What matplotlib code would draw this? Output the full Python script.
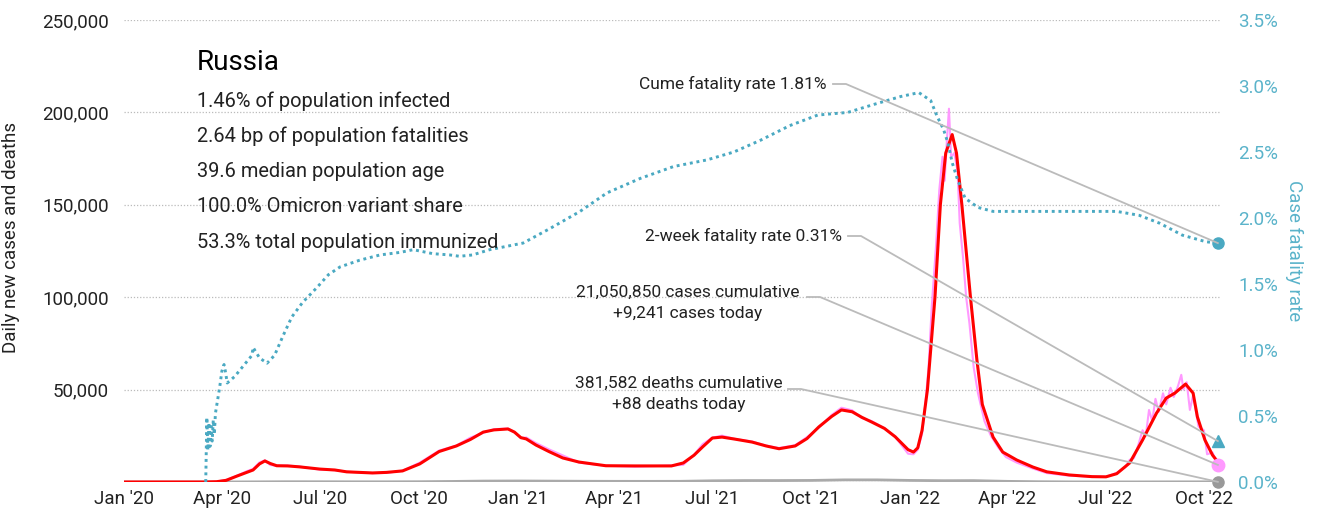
import matplotlib
matplotlib.use("Agg")
import matplotlib.pyplot as plt
import matplotlib.dates as mdates
from matplotlib.lines import Line2D
from matplotlib.ticker import FuncFormatter
import pandas as pd

plt.rcParams['font.family'] = ['Roboto', 'DejaVu Sans']

# 7-day average of new cases
avg_dates = ["2020-01-01", "2020-03-15", "2020-03-27", "2020-04-05", "2020-04-15", "2020-04-30",
             "2020-05-06", "2020-05-11", "2020-05-16", "2020-05-22", "2020-06-01", "2020-06-12",
             "2020-07-01", "2020-07-15", "2020-07-26", "2020-08-19", "2020-09-01", "2020-09-16",
             "2020-10-02", "2020-10-20", "2020-11-05", "2020-11-18", "2020-11-30", "2020-12-10",
             "2020-12-23", "2020-12-29", "2021-01-04", "2021-01-09", "2021-01-18", "2021-01-30",
             "2021-02-12", "2021-02-27", "2021-03-24", "2021-04-20", "2021-05-24", "2021-06-04",
             "2021-06-14", "2021-06-22", "2021-07-01", "2021-07-10", "2021-07-22", "2021-08-07",
             "2021-08-20", "2021-09-01", "2021-09-16", "2021-09-27", "2021-10-08", "2021-10-20",
             "2021-10-29", "2021-11-08", "2021-11-17", "2021-11-26", "2021-12-08", "2021-12-18",
             "2021-12-30", "2022-01-04", "2022-01-08", "2022-01-12", "2022-01-17", "2022-01-24",
             "2022-01-29", "2022-02-03", "2022-02-09", "2022-02-13", "2022-02-18", "2022-02-26",
             "2022-03-04", "2022-03-09", "2022-03-19", "2022-03-28", "2022-04-10", "2022-04-25",
             "2022-05-08", "2022-05-29", "2022-06-19", "2022-07-02", "2022-07-12", "2022-07-24",
             "2022-08-05", "2022-08-18", "2022-08-27", "2022-09-04", "2022-09-14", "2022-09-21",
             "2022-09-25", "2022-10-02", "2022-10-09", "2022-10-14"]
avg_cases = [0, 0, 150, 900, 3200, 6500,
             9800, 11400, 10000, 8800, 8700, 8200,
             7000, 6500, 5500, 4900, 5200, 6000,
             9800, 16500, 19500, 23000, 27000, 28200,
             28700, 27000, 24000, 23300, 20000, 16500,
             13000, 10800, 8800, 8700, 8700, 10300,
             14500, 19000, 23800, 24300, 23200, 21600,
             19500, 18000, 19500, 23500, 29800, 35500,
             39000, 38000, 35000, 32500, 29000, 24500,
             17500, 16200, 18500, 28000, 50000, 100000,
             150000, 178000, 188000, 178000, 150000, 100000,
             66000, 42000, 24300, 16200, 11900, 8100,
             5500, 3800, 2900, 2800, 4500, 10300,
             22700, 37300, 45400, 48100, 53000, 48100,
             35200, 22700, 14600, 10800]

# reported daily new cases
raw_dates = ["2020-01-01", "2020-03-15", "2020-03-27", "2020-04-05", "2020-04-15", "2020-04-24",
             "2020-04-30", "2020-05-06", "2020-05-11", "2020-05-16", "2020-05-22", "2020-06-01",
             "2020-06-12", "2020-07-01", "2020-07-15", "2020-07-26", "2020-08-19", "2020-09-01",
             "2020-09-16", "2020-10-02", "2020-10-20", "2020-11-05", "2020-11-18", "2020-11-30",
             "2020-12-10", "2020-12-23", "2020-12-29", "2021-01-04", "2021-01-09", "2021-01-18",
             "2021-01-30", "2021-02-12", "2021-02-27", "2021-03-24", "2021-04-20", "2021-05-24",
             "2021-06-04", "2021-06-14", "2021-06-22", "2021-07-01", "2021-07-10", "2021-07-22",
             "2021-08-07", "2021-08-20", "2021-09-01", "2021-09-16", "2021-09-27", "2021-10-08",
             "2021-10-20", "2021-10-29", "2021-11-08", "2021-11-17", "2021-11-26", "2021-12-08",
             "2021-12-18", "2021-12-30", "2022-01-04", "2022-01-08", "2022-01-12", "2022-01-15",
             "2022-01-18", "2022-01-21", "2022-01-25", "2022-01-28", "2022-01-31", "2022-02-02",
             "2022-02-04", "2022-02-06", "2022-02-08", "2022-02-11", "2022-02-14", "2022-02-16",
             "2022-02-19", "2022-02-22", "2022-02-25", "2022-03-01", "2022-03-05", "2022-03-11",
             "2022-03-17", "2022-03-24", "2022-03-31", "2022-04-10", "2022-04-25", "2022-05-08",
             "2022-05-29", "2022-06-19", "2022-07-02", "2022-07-12", "2022-07-20", "2022-07-24",
             "2022-07-28", "2022-08-01", "2022-08-05", "2022-08-08", "2022-08-11", "2022-08-14",
             "2022-08-17", "2022-08-20", "2022-08-24", "2022-08-27", "2022-08-31", "2022-09-03",
             "2022-09-07", "2022-09-10", "2022-09-12", "2022-09-15", "2022-09-18", "2022-09-21",
             "2022-09-26", "2022-10-01", "2022-10-04", "2022-10-09", "2022-10-14"]
raw_cases = [0, 0, 200, 1150, 3400, 5800,
             7100, 10600, 11700, 9200, 8800, 8900,
             8400, 6700, 6400, 5600, 4800, 4900,
             6100, 10500, 17000, 19700, 24000, 26600,
             28600, 28900, 27000, 23700, 24100, 21100,
             17700, 14400, 10500, 8800, 8300, 8900,
             9300, 14700, 20500, 24000, 25100, 23300,
             21900, 19700, 18400, 19900, 24300, 29400,
             36300, 40200, 38800, 34600, 33000, 29100,
             24400, 15300, 15000, 17500, 26000, 42000,
             62000, 95000, 128000, 158000, 176000, 163000,
             184000, 202000, 176000, 178000, 168000, 140000,
             122000, 100000, 86000, 62000, 48000, 33000,
             25000, 18500, 13500, 10500, 7300, 4800,
             3400, 2900, 2800, 5000, 8000, 12000,
             13000, 20000, 28000, 25000, 39000, 33000,
             45000, 38000, 48000, 42000, 51000, 46000,
             52000, 58000, 50000, 54000, 39000, 47000,
             30000, 28000, 15000, 16000, 9241]

# daily deaths, 7-day average
death_dates = ["2020-01-01", "2020-03-25", "2020-05-01", "2020-06-01", "2020-07-01", "2020-08-01",
               "2020-09-01", "2020-10-01", "2020-11-01", "2020-12-01", "2021-01-01", "2021-02-01",
               "2021-03-01", "2021-04-01", "2021-05-01", "2021-06-01", "2021-07-01", "2021-08-01",
               "2021-09-01", "2021-10-01", "2021-11-01", "2021-12-01", "2022-01-01", "2022-02-01",
               "2022-03-01", "2022-04-01", "2022-05-01", "2022-06-01", "2022-07-01", "2022-08-01",
               "2022-09-01", "2022-10-01", "2022-10-14"]
deaths = [0, 0, 80, 150, 140, 110,
          110, 150, 300, 500, 550, 480,
          400, 360, 350, 370, 650, 780,
          780, 850, 1150, 1150, 850, 700,
          750, 350, 150, 60, 40, 50,
          80, 90, 88]

# cumulative case fatality rate, %
cfr_dates = ["2020-03-17", "2020-03-18", "2020-03-19", "2020-03-20", "2020-03-21", "2020-03-22",
             "2020-03-23", "2020-03-24", "2020-03-25", "2020-03-26", "2020-03-28", "2020-03-30",
             "2020-04-01", "2020-04-03", "2020-04-04", "2020-04-06", "2020-04-13", "2020-04-20",
             "2020-04-29", "2020-04-30", "2020-05-06", "2020-05-13", "2020-05-20", "2020-05-28",
             "2020-06-05", "2020-06-15", "2020-06-28", "2020-07-09", "2020-07-20", "2020-08-07",
             "2020-08-26", "2020-09-14", "2020-09-26", "2020-10-14", "2020-10-30", "2020-11-08",
             "2020-11-20", "2020-12-06", "2021-01-06", "2021-01-31", "2021-02-28", "2021-03-25",
             "2021-04-25", "2021-05-26", "2021-06-26", "2021-07-21", "2021-08-15", "2021-09-11",
             "2021-10-07", "2021-11-04", "2021-11-28", "2021-12-23", "2022-01-09", "2022-01-20",
             "2022-01-26", "2022-02-01", "2022-02-05", "2022-02-09", "2022-02-14", "2022-02-21",
             "2022-03-05", "2022-03-19", "2022-07-12", "2022-08-02", "2022-08-21", "2022-09-11",
             "2022-10-03", "2022-10-14"]
cfr = [0.0, 0.49, 0.24, 0.45, 0.27, 0.42,
       0.31, 0.47, 0.36, 0.52, 0.62, 0.72,
       0.84, 0.89, 0.85, 0.75, 0.80, 0.87,
       0.96, 1.02, 0.94, 0.90, 0.96, 1.11,
       1.25, 1.36, 1.47, 1.57, 1.63, 1.68,
       1.72, 1.74, 1.76, 1.73, 1.72, 1.71,
       1.72, 1.76, 1.81, 1.92, 2.05, 2.19,
       2.30, 2.39, 2.44, 2.50, 2.59, 2.70,
       2.78, 2.80, 2.86, 2.92, 2.95, 2.89,
       2.77, 2.67, 2.57, 2.42, 2.29, 2.15,
       2.08, 2.05, 2.05, 2.02, 1.96, 1.87,
       1.82, 1.81]

country = "Russia"
stats = ["1.46% of population infected",
         "2.64 bp of population fatalities",
         "39.6 median population age",
         "100.0% Omicron variant share",
         "53.3% total population immunized"]
cume_rate = 1.81
two_week_rate = 0.31
cases_total = "21,050,850"
cases_today = 9241
deaths_total = "381,582"
deaths_today = 88

RED = "#ff0000"
PINK = "#ff99ff"
TEAL = "#4aa9c2"
TEAL_TXT = "#5ab3ca"
GRAY = "#aaaaaa"
TXT = "#222222"

W, H = 1321, 523
fig = plt.figure(figsize=(W / 100, H / 100), dpi=100)
ax = fig.add_axes([124 / W, 41 / H, (1220 - 124) / W, 462 / H])
ax2 = ax.twinx()

raw_x = pd.to_datetime(raw_dates)
avg_x = pd.to_datetime(avg_dates)
death_x = pd.to_datetime(death_dates)
cfr_x = pd.to_datetime(cfr_dates)

ax.plot(raw_x, raw_cases, color=PINK, lw=1.5, zorder=2)
ax.plot(avg_x, avg_cases, color=RED, lw=2.2, zorder=3)
ax.plot(death_x, deaths, color=GRAY, lw=2, zorder=2)
ax2.plot(cfr_x, cfr, color=TEAL, lw=2.1, linestyle=(0, (1, 1.3)))

end = raw_x[-1]
ax.set_xlim(pd.Timestamp("2020-01-01"), pd.Timestamp("2022-10-16"))
ax.set_ylim(0, 250000)
ax2.set_ylim(0, 3.5)

ax.set_yticks(range(0, 250001, 50000))
ax.yaxis.set_major_formatter(FuncFormatter(lambda v, p: "" if v == 0 else f"{v:,.0f}"))
ax2.set_yticks([i * 0.5 for i in range(8)])
ax2.yaxis.set_major_formatter(FuncFormatter(lambda v, p: f"{v:.1f}%"))
ax.xaxis.set_major_locator(mdates.MonthLocator(bymonth=[1, 4, 7, 10]))
ax.xaxis.set_major_formatter(mdates.DateFormatter("%b '%y"))

ax.grid(axis="y", color="#bbbbbb", lw=0.9, linestyle=(0, (1, 1.5)))
for a in (ax, ax2):
    for s in a.spines.values():
        s.set_visible(False)
    a.tick_params(length=0)
ax.tick_params(axis="y", labelsize=13.5, labelcolor=TXT, pad=11)
ax.tick_params(axis="x", labelsize=13.5, labelcolor=TXT, pad=6)
ax2.tick_params(axis="y", labelsize=13.5, labelcolor=TEAL_TXT, pad=13)

ax.set_ylabel("Daily new cases and deaths", fontsize=13.5, color=TXT, labelpad=7)
ax.yaxis.set_label_coords(-0.095, 0.53)
ax2.set_ylabel("Case fatality rate", fontsize=13.5, color=TEAL_TXT, rotation=-90, labelpad=18)

# end-of-series markers
ax2.plot([end], [cume_rate], "o", color=TEAL, ms=8, clip_on=False, zorder=6)
ax2.plot([end], [two_week_rate], "^", color=TEAL, ms=9, clip_on=False, zorder=6)
ax2.plot([end], [cases_today / 250000 * 3.5], "o", color=PINK, ms=9, clip_on=False, zorder=6)
ax2.plot([end], [deaths_today / 250000 * 3.5], "o", color="#999999", ms=8, clip_on=False, zorder=6)

# headline block
fig.text(197 / W, 1 - 62 / H, country, fontsize=20, color="black", va="center")
for i, s in enumerate(stats):
    fig.text(197 / W, 1 - (101 + i * 35.3) / H, s, fontsize=14.4, color=TXT, va="center")


def px(x, y):
    return x / W, 1 - y / H


def connector(x0, y0, value):
    mx, my = ax2.transData.transform((mdates.date2num(end), value))
    fx, fy = fig.transFigure.inverted().transform((mx, my))
    ax0, ay0 = px(x0, y0)
    ax1, _ = px(x0 + 13, y0)
    fig.add_artist(Line2D([ax0, ax1, fx], [ay0, ay0, fy], color="#bbbbbb", lw=1.3, zorder=5))


fig.text(*px(827, 84), f"Cume fatality rate {cume_rate:.2f}%", fontsize=12.5, color=TXT,
         ha="right", va="center")
connector(833, 84, cume_rate)
fig.text(*px(842, 236), f"2-week fatality rate {two_week_rate:.2f}%", fontsize=12.5, color=TXT,
         ha="right", va="center")
connector(848, 236, two_week_rate)
fig.text(*px(688, 303), f"{cases_total} cases cumulative\n+{cases_today:,} cases today",
         fontsize=12.5, color=TXT, ha="center", va="center", multialignment="center",
         linespacing=1.45)
connector(807, 297, cases_today / 250000 * 3.5)
fig.text(*px(679, 394), f"{deaths_total} deaths cumulative\n+{deaths_today} deaths today",
         fontsize=12.5, color=TXT, ha="center", va="center", multialignment="center",
         linespacing=1.45)
connector(788, 389, deaths_today / 250000 * 3.5)

fig.savefig("out.png", dpi=100)
